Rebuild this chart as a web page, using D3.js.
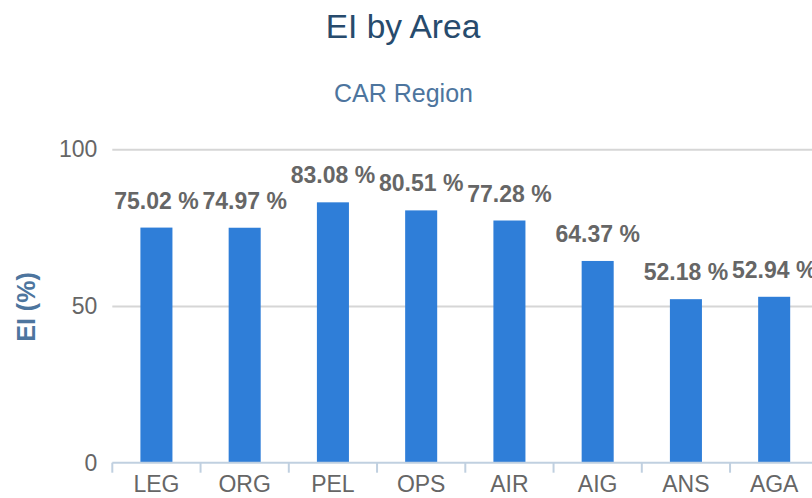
<!DOCTYPE html>
<html>
<head>
<meta charset="utf-8">
<script src="https://cdn.jsdelivr.net/npm/d3@7"></script>
<style>
  html, body { margin: 0; padding: 0; background: #fff; overflow: hidden; }
  svg { display: block; font-family: "Liberation Sans", Arial, sans-serif; }
</style>
</head>
<body>
<div id="chart"></div>
<script>
// EI by Area — CAR Region
const areas  = ["LEG", "ORG", "PEL", "OPS", "AIR", "AIG", "ANS", "AGA"];
const eiVals = [75.02, 74.97, 83.08, 80.51, 77.28, 64.37, 52.18, 52.94];
const yTicks = [0, 50, 100];

const width = 812, height = 498;
const plot = { left: 112.3, right: 818.3, top: 149.3, bottom: 462.7 };

const svg = d3.select("#chart").append("svg")
  .attr("width", width).attr("height", height);

const data = areas.map((a, i) => ({ area: a, value: eiVals[i] }));

// scales
const xCat = d3.scaleBand().domain(areas).range([plot.left, plot.right]).padding(0);
const x = d3.scaleBand().domain(areas).range([plot.left, plot.right])
  .paddingInner(0.637).paddingOuter(0.3185);
const y = d3.scaleLinear().domain([0, 100]).range([plot.bottom, plot.top]);

// titles
svg.append("text")
  .attr("x", 403).attr("y", 38)
  .attr("text-anchor", "middle")
  .style("font-size", "33.5px").style("fill", "#274b6d")
  .text("EI by Area");

svg.append("text")
  .attr("x", 403.5).attr("y", 102)
  .attr("text-anchor", "middle")
  .style("font-size", "25px").style("fill", "#4d759e")
  .text("CAR Region");

// grid + y labels
const yAxis = svg.append("g").attr("transform", `translate(${plot.left},0)`)
  .call(d3.axisLeft(y).tickValues(yTicks).tickSize(-(plot.right - plot.left)).tickPadding(15));
yAxis.select(".domain").remove();
yAxis.selectAll(".tick line")
  .attr("stroke", d => d === 0 ? "none" : "#d6d6d6").attr("stroke-width", 2);
yAxis.selectAll(".tick text")
  .style("font-size", "23px").style("fill", "#666")
  .style("font-family", "'Liberation Sans', Arial, sans-serif");

// y axis title
svg.append("text")
  .attr("transform", `translate(35,307) rotate(-90)`)
  .attr("text-anchor", "middle")
  .style("font-size", "25px").style("font-weight", "bold").style("fill", "#4d759e")
  .text("EI (%)");

// bars
svg.selectAll("rect.bar")
  .data(data)
  .join("rect")
  .attr("class", "bar")
  .attr("x", d => x(d.area))
  .attr("y", d => y(d.value))
  .attr("width", x.bandwidth())
  .attr("height", d => y(0) - y(d.value))
  .attr("fill", "#2f7ed8");

// x axis line + boundary ticks
const xg = svg.append("g");
xg.append("line")
  .attr("x1", plot.left).attr("x2", plot.right)
  .attr("y1", plot.bottom).attr("y2", plot.bottom)
  .attr("stroke", "#c0d0e0").attr("stroke-width", 2);
const bounds = areas.map(a => xCat(a)).concat([plot.right]);
xg.selectAll("line.tk")
  .data(bounds)
  .join("line")
  .attr("class", "tk")
  .attr("x1", d => d).attr("x2", d => d)
  .attr("y1", plot.bottom).attr("y2", plot.bottom + 10)
  .attr("stroke", "#c0d0e0").attr("stroke-width", 2);
xg.selectAll("text.xl")
  .data(areas)
  .join("text")
  .attr("class", "xl")
  .attr("x", d => xCat(d) + xCat.bandwidth() / 2)
  .attr("y", 492)
  .attr("text-anchor", "middle")
  .style("font-size", "23px").style("fill", "#666")
  .text(d => d);

// value labels
svg.selectAll("text.val")
  .data(data)
  .join("text")
  .attr("class", "val")
  .attr("x", d => x(d.area) + x.bandwidth() / 2)
  .attr("y", d => y(d.value) - 19)
  .attr("text-anchor", "middle")
  .style("font-size", "23px").style("font-weight", "bold").style("fill", "#666")
  .text(d => d.value.toFixed(2) + " %");
</script>
</body>
</html>
